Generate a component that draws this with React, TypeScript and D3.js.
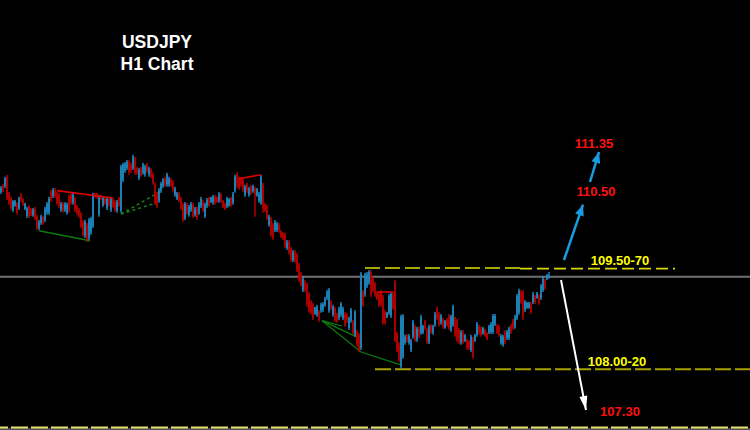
import React from "react";
import * as d3 from "d3";

// H1 candles, [open, high, low, close] in JPY
const candles: [number, number, number, number][] = [
  [110.84,110.93,110.81,110.90],[110.93,110.96,110.84,110.87],[110.93,111.07,110.90,111.04],[111.07,111.10,110.72,110.75],
  [110.81,110.84,110.65,110.68],[110.74,110.77,110.57,110.60],[110.57,110.72,110.54,110.69],[110.64,110.72,110.62,110.70],
  [110.66,110.69,110.50,110.53],[110.60,110.77,110.57,110.74],[110.80,110.83,110.69,110.72],[110.73,110.75,110.63,110.65],
  [110.59,110.68,110.57,110.66],[110.48,110.62,110.45,110.59],[110.62,110.65,110.45,110.48],[110.58,110.60,110.48,110.50],
  [110.49,110.60,110.47,110.58],[110.59,110.62,110.42,110.45],[110.47,110.50,110.27,110.30],[110.30,110.42,110.27,110.39],
  [110.38,110.50,110.35,110.47],[110.46,110.48,110.35,110.37],[110.42,110.62,110.39,110.59],[110.53,110.69,110.50,110.66],
  [110.53,110.77,110.50,110.74],[110.84,110.87,110.69,110.72],[110.78,110.90,110.75,110.87],[110.87,110.90,110.75,110.78],
  [110.81,110.84,110.65,110.68],[110.80,110.83,110.60,110.63],[110.57,110.69,110.54,110.66],[110.66,110.69,110.53,110.56],
  [110.57,110.69,110.54,110.66],[110.53,110.68,110.50,110.65],[110.77,110.80,110.53,110.56],[110.80,110.83,110.65,110.68],
  [110.68,110.83,110.65,110.80],[110.74,110.77,110.54,110.57],[110.62,110.65,110.50,110.53],[110.57,110.60,110.45,110.48],
  [110.51,110.54,110.30,110.33],[110.39,110.42,110.17,110.20],[110.18,110.42,110.15,110.39],[110.35,110.38,110.09,110.12],
  [110.15,110.45,110.12,110.42],[110.23,110.47,110.20,110.44],[110.33,110.83,110.30,110.80],[110.82,110.83,110.75,110.77],
  [110.82,110.83,110.74,110.76],[110.50,110.80,110.47,110.77],[110.79,110.80,110.72,110.74],[110.64,110.77,110.62,110.75],
  [110.75,110.77,110.65,110.67],[110.60,110.77,110.57,110.74],[110.73,110.75,110.62,110.64],[110.57,110.77,110.54,110.74],
  [110.73,110.75,110.60,110.62],[110.69,110.72,110.54,110.57],[110.56,110.72,110.53,110.69],[110.75,110.77,110.62,110.64],
  [110.56,111.25,110.53,111.22],[111.02,111.28,110.99,111.25],[111.16,111.29,111.13,111.26],[111.20,111.32,111.17,111.29],
  [111.29,111.32,111.10,111.13],[111.25,111.28,111.13,111.16],[111.20,111.40,111.17,111.37],[111.34,111.37,111.10,111.13],
  [111.20,111.22,111.10,111.12],[111.05,111.20,111.02,111.17],[111.20,111.22,111.07,111.09],[111.13,111.28,111.10,111.25],
  [111.10,111.25,111.07,111.22],[111.25,111.28,111.13,111.16],[111.10,111.22,111.07,111.19],[111.17,111.20,111.05,111.08],
  [111.10,111.13,110.95,110.98],[110.95,110.98,110.65,110.68],[110.81,110.84,110.60,110.63],[110.71,110.90,110.68,110.87],
  [110.86,110.99,110.83,110.96],[110.93,111.05,110.90,111.02],[111.04,111.07,110.92,110.95],[110.95,111.13,110.92,111.10],
  [110.95,111.07,110.92,111.04],[111.03,111.05,110.92,110.94],[110.99,111.02,110.84,110.87],[110.80,110.92,110.77,110.89],
  [110.74,110.84,110.72,110.82],[110.81,110.84,110.69,110.72],[110.74,110.77,110.57,110.60],[110.65,110.68,110.39,110.42],
  [110.45,110.69,110.42,110.66],[110.65,110.68,110.50,110.53],[110.50,110.65,110.47,110.62],[110.57,110.69,110.54,110.66],
  [110.65,110.68,110.45,110.48],[110.50,110.62,110.47,110.59],[110.59,110.62,110.42,110.45],[110.53,110.69,110.50,110.66],
  [110.63,110.77,110.60,110.74],[110.69,110.72,110.54,110.57],[110.48,110.68,110.45,110.65],[110.63,110.75,110.60,110.72],
  [110.75,110.77,110.62,110.64],[110.69,110.77,110.68,110.76],[110.68,110.80,110.65,110.77],[110.77,110.80,110.65,110.68],
  [110.76,110.77,110.68,110.69],[110.71,110.84,110.68,110.81],[110.80,110.83,110.68,110.71],[110.70,110.72,110.60,110.62],
  [110.66,110.68,110.57,110.59],[110.63,110.77,110.60,110.74],[110.64,110.75,110.62,110.73],[110.75,110.77,110.62,110.64],
  [110.68,110.84,110.65,110.81],[110.86,111.10,110.83,111.07],[111.11,111.14,110.90,110.93],[111.04,111.07,110.87,110.90],
  [111.04,111.07,110.92,110.95],[111.02,111.05,110.84,110.87],[110.80,110.95,110.77,110.92],[110.95,110.98,110.83,110.86],
  [110.80,110.92,110.77,110.89],[110.92,110.95,110.80,110.83],[110.85,110.95,110.83,110.93],[110.89,110.92,110.47,110.80],
  [110.79,110.90,110.77,110.88],[110.71,110.84,110.68,110.81],[110.68,111.10,110.65,111.07],[110.95,110.98,110.53,110.60],
  [110.66,110.68,110.54,110.56],[110.62,110.65,110.42,110.45],[110.35,110.50,110.32,110.47],[110.44,110.47,110.17,110.20],
  [110.35,110.38,110.12,110.15],[110.27,110.42,110.24,110.39],[110.27,110.39,110.24,110.36],[110.35,110.38,110.23,110.26],
  [110.25,110.27,110.15,110.17],[110.22,110.24,110.12,110.14],[110.20,110.23,110.00,110.03],[110.00,110.12,109.97,110.09],
  [110.09,110.12,109.90,109.93],[109.99,110.02,109.79,109.82],[109.82,109.97,109.79,109.94],[109.94,109.97,109.78,109.81],
  [109.90,109.93,109.64,109.67],[109.75,109.78,109.49,109.52],[109.61,109.64,109.42,109.45],[109.37,109.57,109.34,109.54],
  [109.49,109.52,109.34,109.37],[109.45,109.48,109.12,109.15],[109.31,109.34,109.03,109.06],[109.19,109.22,109.00,109.03],
  [109.15,109.18,108.92,108.95],[109.02,109.12,109.00,109.10],[109.00,109.15,108.97,109.12],[109.04,109.07,108.89,108.92],
  [109.06,109.18,109.03,109.15],[109.07,109.19,109.04,109.16],[109.15,109.27,109.12,109.24],[109.25,109.37,109.22,109.34],
  [109.06,109.40,109.03,109.37],[109.19,109.22,109.07,109.10],[109.00,109.15,108.97,109.12],[109.09,109.12,108.89,108.92],
  [109.00,109.03,108.88,108.91],[108.95,109.12,108.92,109.09],[109.00,109.19,108.97,109.16],[108.95,109.12,108.92,109.09],
  [109.01,109.04,108.82,108.85],[109.00,109.03,108.88,108.91],[108.80,108.97,108.77,108.94],[108.91,109.10,108.88,109.07],
  [108.89,108.92,108.70,108.73],[108.70,109.07,108.67,109.04],[108.74,108.77,108.52,108.55],[108.70,108.73,108.44,108.47],
  [108.50,109.64,108.47,109.61],[109.34,109.37,109.12,109.15],[109.30,109.63,109.27,109.60],[109.43,109.64,109.40,109.61],
  [109.48,109.67,109.45,109.64],[109.64,109.67,109.27,109.30],[109.54,109.57,109.34,109.37],[109.46,109.49,109.27,109.30],
  [109.32,109.34,109.22,109.24],[109.31,109.34,109.12,109.15],[109.34,109.37,109.12,109.15],[109.27,109.30,108.85,108.88],
  [109.04,109.07,108.85,108.88],[108.96,109.04,108.95,109.03],[109.03,109.31,109.00,109.28],[108.98,109.34,108.95,109.31],
  [109.31,109.34,109.07,109.10],[109.49,109.52,108.59,108.62],[108.71,108.74,108.44,108.47],[108.56,108.59,108.29,108.32],
  [108.22,109.00,108.19,108.97],[108.37,109.01,108.34,108.98],[108.58,108.70,108.55,108.67],[108.69,108.71,108.58,108.60],
  [108.58,108.71,108.55,108.68],[108.47,108.64,108.44,108.61],[108.67,108.92,108.64,108.89],[108.82,108.85,108.59,108.62],
  [108.62,108.82,108.59,108.79],[108.79,108.82,108.65,108.68],[108.73,109.00,108.70,108.97],[108.73,108.85,108.71,108.83],
  [108.89,108.92,108.77,108.80],[108.77,108.80,108.56,108.59],[108.59,108.85,108.56,108.82],[108.83,108.86,108.71,108.74],
  [108.73,108.85,108.70,108.82],[108.85,109.04,108.82,109.01],[109.09,109.12,108.92,108.95],[109.01,109.04,108.82,108.85],
  [108.88,109.01,108.85,108.98],[108.92,108.95,108.79,108.82],[108.81,108.92,108.79,108.90],[108.93,108.95,108.82,108.84],
  [108.98,109.01,108.77,108.80],[108.77,109.00,108.74,108.97],[108.85,109.15,108.82,109.12],[108.94,108.97,108.67,108.70],
  [108.91,108.94,108.59,108.62],[108.77,108.80,108.56,108.59],[108.58,108.77,108.55,108.74],[108.74,108.77,108.56,108.59],
  [108.61,108.71,108.59,108.69],[108.61,108.64,108.47,108.50],[108.59,108.62,108.47,108.50],[108.47,108.70,108.44,108.67],
  [108.64,108.67,108.34,108.37],[108.61,108.71,108.59,108.69],[108.70,108.89,108.67,108.86],[108.82,108.85,108.70,108.73],
  [108.79,108.82,108.67,108.70],[108.72,108.82,108.70,108.80],[108.77,108.79,108.67,108.69],[108.72,108.74,108.62,108.64],
  [108.73,108.85,108.71,108.83],[108.74,108.89,108.71,108.86],[108.74,109.01,108.71,108.98],[108.86,109.01,108.83,108.98],
  [108.83,108.86,108.71,108.74],[108.82,108.85,108.67,108.70],[108.58,108.71,108.55,108.68],[108.55,108.70,108.52,108.67],
  [108.74,108.77,108.56,108.59],[108.65,108.77,108.62,108.74],[108.65,108.82,108.62,108.79],[108.83,108.86,108.71,108.74],
  [108.91,108.94,108.77,108.80],[108.82,109.00,108.79,108.97],[108.95,109.31,108.92,109.28],[109.03,109.39,109.00,109.36],
  [109.34,109.37,109.16,109.19],[109.34,109.37,108.92,109.00],[109.07,109.22,109.04,109.19],[109.10,109.19,109.09,109.18],
  [109.10,109.19,109.09,109.18],[109.16,109.19,109.01,109.04],[109.19,109.34,109.16,109.31],[109.28,109.30,109.16,109.18],
  [109.25,109.34,109.24,109.33],[109.28,109.31,109.15,109.18],[109.25,109.46,109.22,109.43],[109.37,109.57,109.34,109.54],
  [109.51,109.54,109.37,109.40],[109.53,109.61,109.52,109.60],[109.55,109.64,109.54,109.57],
];

const currentPrice = 109.57;

// Dashed zone / target levels: [fromBar, toBar, price]
const zoneUpper: [number, number, number][] = [[182, 259.5, 109.70], [259.5, 337, 109.69]];
const zoneLower: [number, number, number] = [187, 380, 108.18];
const targetBottom: [number, number, number] = [-5, 380, 107.30];

// Trend lines drawn on the chart: [bar, price] pairs
const redLines: [number, number][][] = [
  [[28, 110.86], [56, 110.75]],
  [[119, 111.04], [130, 111.10]],
  [[188, 109.34], [196, 109.34]],
];
const greenSolid: [number, number][][] = [
  [[19, 110.26], [44.5, 110.11]],
];
const greenDotted: [number, number][][] = [
  [[60, 110.51], [80.5, 110.86]],
  [[60, 110.51], [78, 110.68]],
];
const greenFan: [number, number][][] = [
  [[160.5, 108.91], [170.5, 108.83]],
  [[160.5, 108.91], [177.5, 108.67]],
  [[160.5, 108.91], [180, 108.44], [199.5, 108.25]],
];

// Forecast arrows: [from bar, from price, to bar, to price]
const blueArrows: [number, number, number, number][] = [
  [281.5, 109.82, 291, 110.65],
  [294.5, 110.99, 299, 111.44],
];
const whiteArrow: [number, number, number, number] = [280, 109.52, 292.5, 107.57];

// Text labels: [text, bar, price]
const redLabels: [string, number, number][] = [
  ["111.35", 296.5, 111.5],
  ["110.50", 297.5, 110.78],
  ["107.30", 309.5, 107.48],
];
const yellowLabels: [string, number, number][] = [
  ["109.50-70", 309.5, 109.745],
  ["108.00-20", 308, 108.23],
];

const titleLines = ["USDJPY", "H1 Chart"];

const W = 750;
const H = 430;

function arrowHead(x1: number, y1: number, x2: number, y2: number, len: number, half: number) {
  const dx = x2 - x1;
  const dy = y2 - y1;
  const d = Math.sqrt(dx * dx + dy * dy);
  const ux = dx / d;
  const uy = dy / d;
  const bx = x2 - ux * len;
  const by = y2 - uy * len;
  return `M${x2},${y2}L${bx - uy * half},${by + ux * half}L${bx + uy * half},${by - ux * half}Z`;
}

export default function App() {
  const x = d3.scaleLinear().domain([0, candles.length - 1]).range([1, 1 + 2 * (candles.length - 1)]);
  const y = d3.scaleLinear().domain([107.27, 113.72]).range([H, 0]);
  const line = d3
    .line<[number, number]>()
    .x((d) => x(d[0]))
    .y((d) => y(d[1]));

  const font = "'Liberation Sans', Arial, sans-serif";

  return (
    <svg
      width={W}
      height={H}
      style={{ position: "absolute", left: 0, top: 0, background: "#000", display: "block" }}
    >
      <rect x={0} y={0} width={W} height={H} fill="#000" />

      {/* title */}
      {titleLines.map((t, i) => (
        <text
          key={t}
          x={157}
          y={48 + i * 22}
          textAnchor="middle"
          fill="#ffffff"
          fontFamily={font}
          fontWeight="bold"
          fontSize={17.5}
        >
          {t}
        </text>
      ))}

      {/* current price line */}
      <line x1={0} x2={W} y1={y(currentPrice)} y2={y(currentPrice)} stroke="#707076" strokeWidth={2} />

      {/* dashed levels */}
      <line
        x1={x(zoneUpper[0][0])}
        x2={x(zoneUpper[0][1])}
        y1={y(zoneUpper[0][2])}
        y2={y(zoneUpper[0][2])}
        stroke="#a8a800"
        strokeWidth={2}
        strokeDasharray="15 5"
      />
      <line
        x1={x(zoneUpper[1][0])}
        x2={x(zoneUpper[1][1])}
        y1={y(zoneUpper[1][2])}
        y2={y(zoneUpper[1][2])}
        stroke="#d8d800"
        strokeWidth={1.6}
        strokeDasharray="12 5"
      />
      <line
        x1={x(zoneLower[0])}
        x2={x(zoneLower[1])}
        y1={y(zoneLower[2])}
        y2={y(zoneLower[2])}
        stroke="#aaa200"
        strokeWidth={2}
        strokeDasharray="16 4"
      />
      <line
        x1={x(targetBottom[0])}
        x2={x(targetBottom[1])}
        y1={y(targetBottom[2]) + 1}
        y2={y(targetBottom[2]) + 1}
        stroke="#9a9a9a"
        strokeWidth={1}
      />
      <line
        x1={x(targetBottom[0])}
        x2={x(targetBottom[1])}
        y1={y(targetBottom[2]) - 0.5}
        y2={y(targetBottom[2]) - 0.5}
        stroke="#e8e070"
        strokeWidth={2}
        strokeDasharray="17 3"
      />

      {/* trend lines */}
      {greenSolid.map((pts, i) => (
        <path key={"gs" + i} d={line(pts) || ""} fill="none" stroke="#0b7a0b" strokeWidth={1.5} />
      ))}
      {greenDotted.map((pts, i) => (
        <path
          key={"gd" + i}
          d={line(pts) || ""}
          fill="none"
          stroke="#118a11"
          strokeWidth={1.5}
          strokeDasharray="3 3"
        />
      ))}
      {greenFan.map((pts, i) => (
        <path key={"gf" + i} d={line(pts) || ""} fill="none" stroke="#0d7d0d" strokeWidth={1.2} />
      ))}

      {/* candles */}
      {candles.map((c, i) => {
        const [o, h, l, cl] = c;
        const bull = cl >= o;
        const cx = x(i);
        const top = y(Math.max(o, cl));
        const bot = y(Math.min(o, cl));
        return (
          <g key={i}>
            <line
              x1={cx}
              x2={cx}
              y1={y(h)}
              y2={y(l)}
              stroke={bull ? "#1ea6ee" : "#dc0000"}
              strokeWidth={1.2}
            />
            <rect
              x={cx - 0.9}
              y={top}
              width={1.8}
              height={Math.max(1, bot - top)}
              fill={bull ? "#1f82b8" : "#b00000"}
            />
          </g>
        );
      })}

      {redLines.map((pts, i) => (
        <path key={"rl" + i} d={line(pts) || ""} fill="none" stroke="#e00000" strokeWidth={1.6} />
      ))}

      {/* arrows */}
      {blueArrows.map((a, i) => {
        const x1 = x(a[0]);
        const y1 = y(a[1]);
        const x2 = x(a[2]);
        const y2 = y(a[3]);
        return (
          <g key={"ba" + i}>
            <line x1={x1} y1={y1} x2={x2} y2={y2} stroke="#1a9de0" strokeWidth={2.5} />
            <path d={arrowHead(x1, y1, x2, y2, 11, 4.5)} fill="#1a9de0" />
          </g>
        );
      })}
      {(() => {
        const x1 = x(whiteArrow[0]);
        const y1 = y(whiteArrow[1]);
        const x2 = x(whiteArrow[2]);
        const y2 = y(whiteArrow[3]);
        return (
          <g>
            <line x1={x1} y1={y1} x2={x2} y2={y2} stroke="#ffffff" strokeWidth={2} />
            <path d={arrowHead(x1, y1, x2, y2, 14, 4)} fill="#ffffff" />
          </g>
        );
      })()}

      {/* labels */}
      {redLabels.map(([t, b, p]) => (
        <text
          key={t}
          x={x(b)}
          y={y(p)}
          textAnchor="middle"
          fill="#ff1010"
          fontFamily={font}
          fontWeight="bold"
          fontSize={13}
        >
          {t}
        </text>
      ))}
      {yellowLabels.map(([t, b, p]) => (
        <text
          key={t}
          x={x(b)}
          y={y(p)}
          textAnchor="middle"
          fill="#ffff00"
          fontFamily={font}
          fontWeight="bold"
          fontSize={13}
        >
          {t}
        </text>
      ))}
    </svg>
  );
}
